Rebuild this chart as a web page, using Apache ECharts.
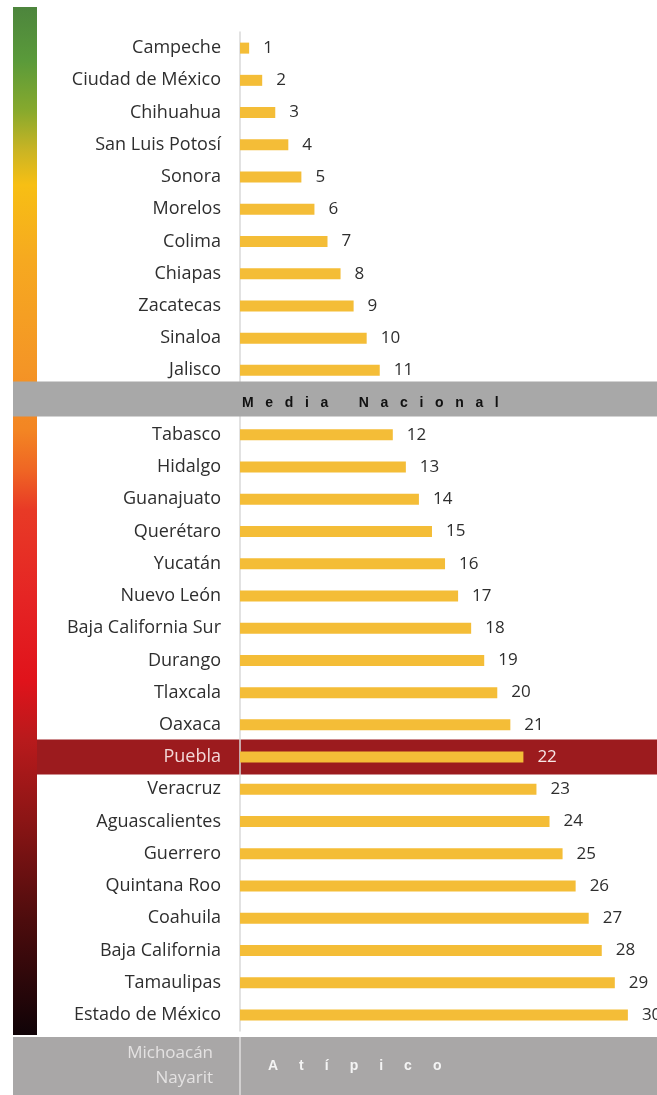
<!DOCTYPE html>
<html>
<head>
<meta charset="utf-8">
<script src="https://cdn.jsdelivr.net/npm/echarts@6/dist/echarts.min.js"></script>
<style>
html,body{margin:0;padding:0;background:#fff;}
#chart{width:657px;height:1095px;}
</style>
</head>
<body>
<div id="chart"></div>
<script>
// ---- data ----
var categories = ['Campeche','Ciudad de México','Chihuahua','San Luis Potosí','Sonora','Morelos','Colima','Chiapas','Zacatecas','Sinaloa','Jalisco','Media Nacional','Tabasco','Hidalgo','Guanajuato','Querétaro','Yucatán','Nuevo León','Baja California Sur','Durango','Tlaxcala','Oaxaca','Puebla','Veracruz','Aguascalientes','Guerrero','Quintana Roo','Coahuila','Baja California','Tamaulipas','Estado de México'];
var ranks = [1,2,3,4,5,6,7,8,9,10,11,null,12,13,14,15,16,17,18,19,20,21,22,23,24,25,26,27,28,29,30];
var bandCategory = 'Media Nacional';
var highlightCategory = 'Puebla';
var bandTitle = 'Media Nacional';
var outlierStates = ['Michoacán','Nayarit'];
var outlierTitle = 'Atípico';

var FONT = '"Open Sans", Roboto, "Liberation Sans", sans-serif';
function spaced(s, sep, gap){ return s.split(' ').map(function(w){return w.split('').join(sep);}).join(gap); }

var chart = echarts.init(document.getElementById('chart'), null, {renderer:'canvas'});
var seriesData = ranks.map(function(v, i){
  if (categories[i] === highlightCategory) {
    return {value: v, label: {color: '#f7e6e6'}};
  }
  return v;
});

chart.setOption({
  animation: false,
  grid: {left: 240, top: 32, width: 414, bottom: 64, containLabel: false},
  xAxis: {type: 'value', min: 0.3, max: 32, show: false},
  yAxis: {
    type: 'category', data: categories, inverse: true, z: 3,
    axisLine: {show: true, lineStyle: {color: '#d9d9d9', width: 1.5}},
    axisTick: {show: false},
    axisLabel: {
      margin: 19, fontSize: 18, fontFamily: FONT,
      formatter: function(v){ return v === bandCategory ? '' : v; },
      color: function(v){ return v === highlightCategory ? '#f3d8d8' : '#2e2e2e'; }
    },
    splitLine: {show: false}
  },
  series: [{
    type: 'bar', data: seriesData, barWidth: 11,
    itemStyle: {color: '#F4BD37'},
    label: {show: true, position: 'right', distance: 14, fontSize: 17, fontFamily: FONT, color: '#2e2e2e'},
    z: 3
  }]
});

function yOf(cat){ return chart.convertToPixel({yAxisIndex: 0}, cat); }
var bandY = yOf(bandCategory);
var hiY = yOf(highlightCategory);
var lastY = yOf(categories[categories.length-1]);
var step = yOf(categories[1]) - yOf(categories[0]);
var gridLeft = 240;
var gradTop = 7, gradBottom = lastY + step/2 + 4;
var outTop = gradBottom + 2;

chart.setOption({
  graphic: [
    {type: 'rect', z: 0, shape: {x: 13, y: gradTop, width: 24, height: gradBottom - gradTop},
      style: {fill: new echarts.graphic.LinearGradient(0,0,0,1,[
        {offset:0, color:'#4d853d'},{offset:0.052, color:'#5a9a3a'},{offset:0.1, color:'#86a92d'},
        {offset:0.139, color:'#c9b424'},{offset:0.173, color:'#f7bf14'},{offset:0.246, color:'#f6a920'},
        {offset:0.353, color:'#f49526'},{offset:0.412, color:'#f38523'},{offset:0.45, color:'#ef6624'},
        {offset:0.489, color:'#e83a26'},{offset:0.577, color:'#e52424'},{offset:0.655, color:'#e0131b'},
        {offset:0.713, color:'#b81a1c'},{offset:0.79, color:'#8c1515'},{offset:0.888, color:'#4d0c0d'},
        {offset:1, color:'#100307'}])}},
    {type: 'rect', z: 1, shape: {x: 37, y: hiY - 17.5, width: 620, height: 35}, style: {fill: '#9c1b1e'}},
    {type: 'rect', z: 5, shape: {x: 13, y: bandY - 21, width: 644, height: 35}, style: {fill: '#a8a8a8'}},
    {type: 'text', z: 6, x: 242, y: bandY + 1, style: {text: spaced(bandTitle, '\u2002\u2004', '\u2002\u2004\u2002\u2004\u2002'), fontSize: 14, fontWeight: 'bold', fontFamily: '"Liberation Sans", Arial, sans-serif', fill: '#111', verticalAlign: 'middle', align: 'left'}},
    {type: 'rect', z: 5, shape: {x: 13, y: outTop, width: 644, height: 1095 - outTop}, style: {fill: '#a9a7a7'}},
    {type: 'line', z: 6, shape: {x1: gridLeft, y1: outTop, x2: gridLeft, y2: 1095}, style: {stroke: '#d2d0d0', lineWidth: 2}},
    {type: 'text', z: 6, x: 213, y: outTop + 16, style: {text: outlierStates[0], fontSize: 17, fontFamily: FONT, fill: '#e4e2e2', align: 'right', verticalAlign: 'middle'}},
    {type: 'text', z: 6, x: 213, y: outTop + 41, style: {text: outlierStates[1], fontSize: 17, fontFamily: FONT, fill: '#e4e2e2', align: 'right', verticalAlign: 'middle'}},
    {type: 'text', z: 6, x: 268, y: outTop + 29, style: {text: spaced(outlierTitle, '\u2003\u2002', ''), fontSize: 14, fontWeight: 'bold', fontFamily: '"Liberation Sans", Arial, sans-serif', fill: '#f4f4f4', align: 'left', verticalAlign: 'middle'}}
  ]
});
</script>
</body>
</html>
